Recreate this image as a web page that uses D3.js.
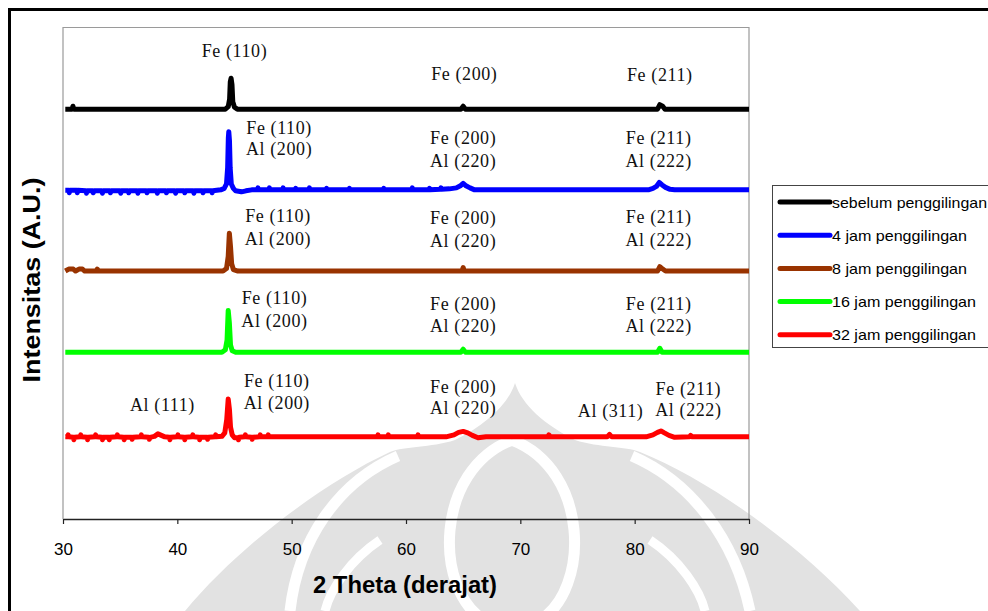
<!DOCTYPE html>
<html>
<head>
<meta charset="utf-8">
<script src="https://cdn.jsdelivr.net/npm/d3@7"></script>
<style>
  html, body { margin: 0; padding: 0; background: #ffffff; }
  svg { display: block; }
</style>
</head>
<body>
<svg id="chart" width="988" height="611"></svg>
<script>
// ---- data -----------------------------------------------------------------
const seriesNames = [
  "sebelum penggilingan",
  "4 jam penggilingan",
  "8 jam penggilingan",
  "16 jam penggilingan",
  "32 jam penggilingan"
];
const seriesColors = ["#000000", "#0000ff", "#993300", "#00ff00", "#ff0000"];

// vertical stacking offset of each pattern (A.U.)
const seriesOffsets = [833, 669, 504, 339, 167];

const xTicks = [30, 40, 50, 60, 70, 80, 90];

// diffraction patterns: [2 theta (deg), relative intensity (A.U.)]
const patternUnmilled = [
  [30.2, 0], [30.8, 0], [30.87, 6], [30.95, 0], [44.2, 0], [44.45, 5], [44.57, 20],
  [44.63, 55], [44.7, 63], [44.78, 50], [44.85, 15], [45.0, 4], [45.25, 0],
  [64.8, 0], [65.0, 6], [65.2, 0], [82.0, 0], [82.2, 9], [82.45, 6], [82.65, 0], [90.0, 0]
];
const pattern4h = [
  [30.2, -1], [30.5, -1], [30.55, -6], [30.6, -1], [31.2, -1], [31.25, -6], [31.3, -1],
  [32.0, -2], [32.05, -7], [32.1, -2], [32.6, -2], [32.65, -6], [32.7, -2],
  [33.4, -2], [33.45, -7], [33.5, -2], [34.1, -2], [34.15, -6], [34.2, -2],
  [35.0, -2], [35.05, -7], [35.1, -2], [35.7, -2], [35.75, -6], [35.8, -2],
  [36.5, -2], [36.55, -7], [36.6, -2], [37.3, -2], [37.35, -6], [37.4, -2],
  [38.2, -2], [38.25, -7], [38.3, -2], [39.0, -2], [39.05, -6], [39.1, -2],
  [39.8, -2], [39.85, -7], [39.9, -2], [40.6, -2], [40.65, -6], [40.7, -2],
  [41.4, -2], [41.45, -7], [41.5, -2], [42.2, -2], [42.25, -6], [42.3, -2],
  [43.0, -2], [43.05, -6], [43.1, -2], [43.8, 0], [44.1, 3], [44.3, 12], [44.4, 45],
  [44.46, 105], [44.5, 118], [44.56, 100], [44.62, 45], [44.72, 12], [44.9, 3],
  [45.1, -2], [45.6, -4], [46.0, -2], [46.5, 0], [47.0, 0], [47.05, 4], [47.1, 0],
  [48.0, 0], [48.05, 4], [48.1, 0], [49.2, 0], [49.25, 4], [49.3, 0], [50.3, 0],
  [50.35, 3], [50.4, 0], [51.5, 0], [51.55, 4], [51.6, 0], [53.0, 0], [53.05, 3],
  [53.1, 0], [55.0, 0], [55.05, 3], [55.1, 0], [58.0, 0], [58.05, 3], [58.1, 0],
  [60.5, 0], [60.55, 4], [60.6, 0], [62.0, 0], [62.05, 3], [62.1, 0], [63.0, 1],
  [63.05, 4], [63.1, 1], [63.8, 2], [64.4, 4], [64.8, 9], [65.0, 13], [65.2, 9],
  [65.6, 4], [66.0, 0], [81.2, 0], [81.6, 3], [81.9, 7], [82.15, 15], [82.4, 10],
  [82.7, 5], [83.1, 1], [83.5, 0], [90.0, 0]
];
const pattern8h = [
  [30.2, 0], [30.5, 4], [30.9, 4], [31.1, 0], [31.4, 4], [31.7, 4], [31.9, 0],
  [32.9, 0], [33.0, 4], [33.1, 0], [44.0, 0], [44.3, 5], [44.45, 30], [44.55, 77],
  [44.65, 50], [44.75, 15], [44.9, 3], [45.3, 0], [64.9, 0], [65.0, 7], [65.1, 0],
  [82.0, 0], [82.2, 9], [82.45, 4], [82.7, 0], [90.0, 0]
];
const pattern16h = [
  [30.2, 0], [43.9, 0], [44.2, 5], [44.35, 25], [44.45, 85], [44.55, 60], [44.65, 15],
  [44.8, 3], [45.1, 0], [64.8, 0], [65.0, 6], [65.2, 0], [82.0, 0], [82.2, 8],
  [82.4, 0], [90.0, 0]
];
const pattern32h = [
  [30.2, 0], [30.4, 0], [30.45, 4], [30.5, 0], [30.9, -1], [30.95, -6], [31.0, -1],
  [31.5, 0], [31.55, 4], [31.6, 0], [32.1, -1], [32.15, -6], [32.2, -1], [32.8, 0],
  [32.85, 4], [32.9, 0], [33.4, -1], [33.45, -6], [33.5, -1], [34.0, -1], [34.05, -6],
  [34.1, -1], [34.7, 0], [34.75, 4], [34.8, 0], [35.3, -1], [35.35, -6], [35.4, -1],
  [36.0, -1], [36.05, -5], [36.1, -1], [36.8, 0], [36.85, 4], [36.9, 0], [37.5, -1],
  [37.55, -5], [37.6, -1], [38.0, 1], [38.3, 6], [38.6, 3], [38.9, 0], [39.3, -1],
  [39.35, -6], [39.4, -1], [40.0, 0], [40.05, 4], [40.1, 0], [40.6, -1], [40.65, -6],
  [40.7, -1], [41.3, 0], [41.35, 4], [41.4, 0], [41.9, -1], [41.95, -6], [42.0, -1],
  [42.6, -1], [42.65, -5], [42.7, -1], [43.3, 0], [43.35, 4], [43.4, 0], [43.9, 1],
  [44.15, 8], [44.32, 35], [44.45, 77], [44.56, 55], [44.65, 20], [44.8, 4], [45.0, -2],
  [45.3, -2], [45.35, -6], [45.4, -1], [45.9, 0], [45.95, 4], [46.0, 0], [46.5, -1],
  [46.55, -5], [46.6, -1], [47.2, 0], [47.25, 4], [47.3, 0], [47.9, 0], [47.95, 4],
  [48.0, 0], [49.0, 0], [50.5, 0], [52.0, 0], [54.0, 0], [57.5, 0], [57.55, 4],
  [57.6, 0], [58.4, 0], [58.45, 4], [58.5, 0], [61.0, 0], [61.05, 4], [61.1, 0],
  [63.5, 0], [64.2, 4], [64.6, 9], [65.0, 11], [65.4, 8], [65.8, 3], [66.3, -2],
  [67.0, 0], [72.4, 0], [72.5, 4], [72.6, 0], [77.6, 0], [77.8, 5], [78.0, 0],
  [81.0, 0], [81.6, 4], [82.0, 9], [82.3, 12], [82.6, 8], [83.0, 3], [83.5, -1],
  [84.8, 0], [84.9, 3], [85.0, 0], [90.0, 0]
];
const patterns = [patternUnmilled, pattern4h, pattern8h, pattern16h, pattern32h];

// reflection labels: [2 theta, intensity (A.U.), text]
const peakLabels = [
  [45.0, 939, "Fe (110)"], [65.1, 892, "Fe (200)"], [82.2, 890, "Fe (211)"],
  [48.9, 783, "Fe (110)"], [48.9, 740, "Al (200)"],
  [65.0, 762, "Fe (200)"], [65.0, 715, "Al (220)"],
  [82.1, 762, "Fe (211)"], [82.1, 715, "Al (222)"],
  [48.8, 604, "Fe (110)"], [48.8, 557, "Al (200)"],
  [65.0, 600, "Fe (200)"], [65.0, 553, "Al (220)"],
  [82.1, 602, "Fe (211)"], [82.1, 555, "Al (222)"],
  [48.5, 437, "Fe (110)"], [48.5, 390, "Al (200)"],
  [65.0, 425, "Fe (200)"], [65.0, 380, "Al (220)"],
  [82.1, 425, "Fe (211)"], [82.1, 380, "Al (222)"],
  [48.7, 268, "Fe (110)"], [48.7, 224, "Al (200)"],
  [38.7, 220, "Al (111)"],
  [65.0, 256, "Fe (200)"], [65.0, 213, "Al (220)"],
  [77.9, 207, "Al (311)"],
  [84.7, 252, "Fe (211)"], [84.7, 209, "Al (222)"]
];

// ---- drawing --------------------------------------------------------------
const svg = d3.select("#chart");
const plot = { left: 63, right: 749, top: 27, bottom: 519 };

const x = d3.scaleLinear().domain([30, 90]).range([plot.left, plot.right]);
const y = d3.scaleLinear().domain([0, 1000]).range([plot.bottom, plot.top]);

// faint emblem in the background
const wm = svg.append("g").attr("class", "emblem");
wm.append("path")
  .attr("fill", "#e2e2e2")
  .attr("d", "M515,383 C522,405 545,425 575,440 C600,448 625,446 640,452 " +
             "C710,480 800,545 860,611 L185,611 C240,545 325,482 390,452 " +
             "C405,446 430,448 455,440 C485,425 508,405 515,383 Z");
wm.append("path").attr("fill", "none").attr("stroke", "#ffffff").attr("stroke-width", 11)
  .attr("d", "M398,456 C338,482 298,540 290,611");
wm.append("path").attr("fill", "none").attr("stroke", "#ffffff").attr("stroke-width", 11)
  .attr("d", "M632,456 C692,482 735,540 750,611");
wm.append("path").attr("fill", "none").attr("stroke", "#ffffff").attr("stroke-width", 11)
  .attr("d", "M512,440 C590,470 590,590 540,620 M512,440 C434,470 434,590 484,620");
wm.append("path").attr("fill", "none").attr("stroke", "#ffffff").attr("stroke-width", 9)
  .attr("d", "M380,540 C350,560 330,590 325,611 M650,540 C680,560 700,590 705,611");

// outer frame
svg.append("rect")
  .attr("x", 9.5).attr("y", 9.5).attr("width", 1100).attr("height", 800)
  .attr("fill", "none").attr("stroke", "#000").attr("stroke-width", 3);

// plot frame
svg.append("path")
  .attr("fill", "none").attr("stroke", "#9a9a9a").attr("stroke-width", 1.2)
  .attr("d", `M${plot.left},${plot.bottom} V${plot.top + 0.5} H${plot.right} V${plot.bottom}`);

// x axis
const xAxis = svg.append("g")
  .attr("transform", `translate(0,${plot.bottom})`)
  .call(d3.axisBottom(x).tickValues(xTicks).tickSize(5).tickSizeOuter(0).tickFormat(d3.format("d")));
xAxis.select(".domain").attr("stroke", "#222").attr("stroke-width", 1.5);
xAxis.selectAll(".tick line").attr("stroke", "#222").attr("stroke-width", 1.2);
xAxis.selectAll(".tick text")
  .attr("y", 36).attr("dy", 0)
  .attr("fill", "#000")
  .style("font-family", "'Liberation Sans Narrow', 'Liberation Sans', Arial, sans-serif")
  .style("font-size", "17px");

// patterns
const line = d3.line().x(d => x(d[0]));
patterns.forEach((p, i) => {
  svg.append("path")
    .datum(p)
    .attr("fill", "none")
    .attr("stroke", seriesColors[i])
    .attr("stroke-width", 5)
    .attr("stroke-linejoin", "round")
    .attr("d", line.y(d => y(d[1] + seriesOffsets[i])));
});

// reflection labels
svg.append("g").selectAll("text")
  .data(peakLabels)
  .join("text")
  .attr("x", d => x(d[0]))
  .attr("y", d => y(d[1]))
  .attr("text-anchor", "middle")
  .style("font-family", "'Liberation Serif', 'Times New Roman', serif")
  .style("font-size", "18px")
  .style("letter-spacing", "0.6px")
  .attr("fill", "#111")
  .text(d => d[2]);

// axis titles
svg.append("text")
  .attr("x", 313).attr("y", 593)
  .attr("textLength", 184).attr("lengthAdjust", "spacingAndGlyphs")
  .style("font-family", "'Liberation Sans', Arial, sans-serif")
  .style("font-size", "24px").style("font-weight", "bold")
  .text("2 Theta (derajat)");

svg.append("text")
  .attr("transform", "translate(40,280) rotate(-90)")
  .attr("text-anchor", "middle")
  .attr("textLength", 205).attr("lengthAdjust", "spacingAndGlyphs")
  .style("font-family", "'Liberation Sans', Arial, sans-serif")
  .style("font-size", "23px").style("font-weight", "bold")
  .text("Intensitas (A.U.)");

// legend
const legend = svg.append("g");
legend.append("rect")
  .attr("x", 772.5).attr("y", 185.5).attr("width", 300).attr("height", 162)
  .attr("fill", "#fff").attr("stroke", "#444").attr("stroke-width", 1);
const legendLengths = [155, 135, 135, 144, 144];
seriesNames.forEach((name, i) => {
  const ly = 202 + i * 33.2;
  legend.append("line")
    .attr("x1", 780).attr("x2", 830).attr("y1", ly).attr("y2", ly)
    .attr("stroke", seriesColors[i]).attr("stroke-width", 5).attr("stroke-linecap", "round");
  legend.append("text")
    .attr("x", 832).attr("y", ly + 5.5)
    .attr("textLength", legendLengths[i]).attr("lengthAdjust", "spacingAndGlyphs")
    .style("font-family", "'Liberation Sans Narrow', 'Liberation Sans', Arial, sans-serif")
    .style("font-size", "15px")
    .text(name);
});
</script>
</body>
</html>
